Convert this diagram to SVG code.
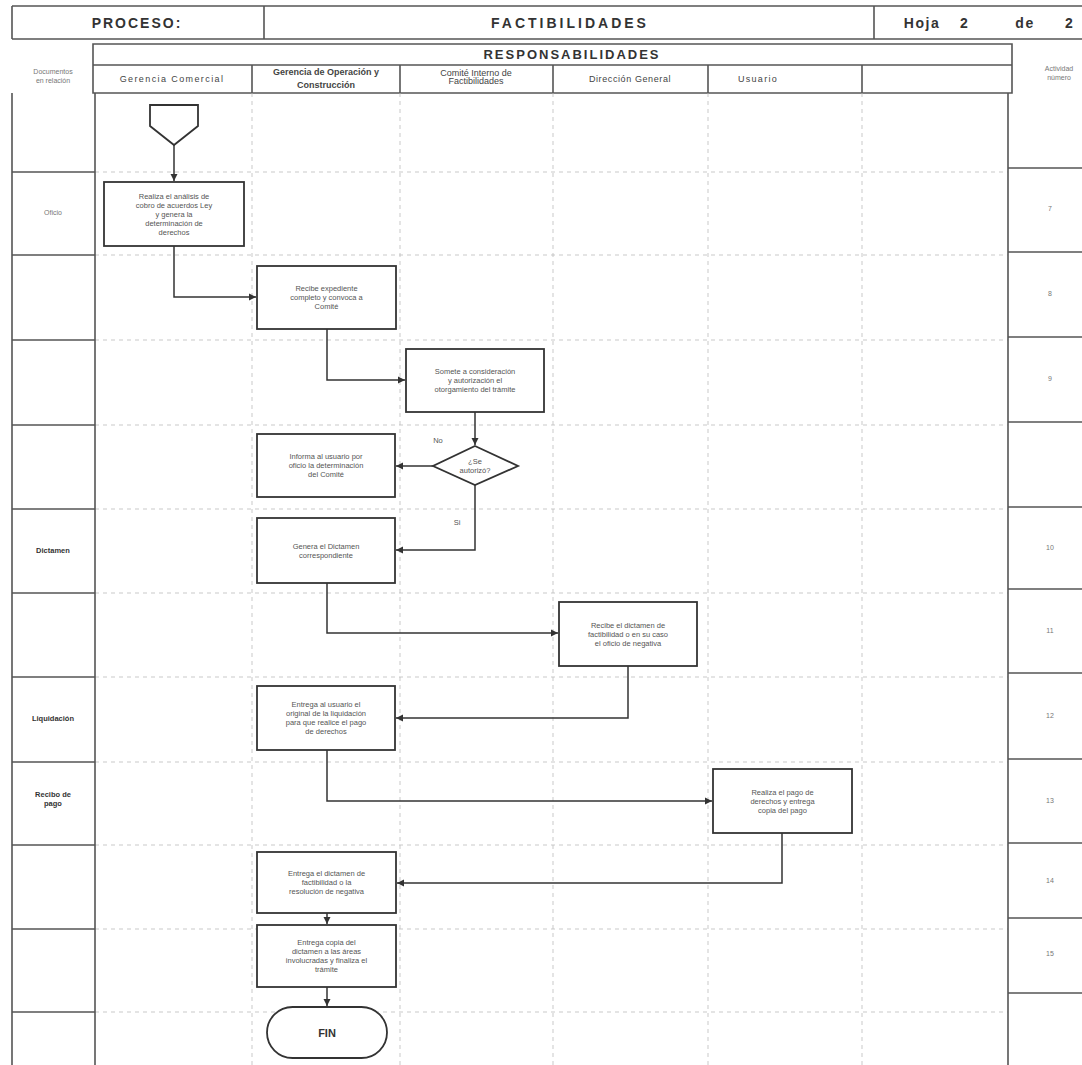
<svg xmlns="http://www.w3.org/2000/svg" width="1082" height="1065" viewBox="0 0 1082 1065">
<style>
  .frame{fill:none;stroke:#555;stroke-width:1.6}
  .solid{stroke:#555;stroke-width:1.6}
  .grid{stroke:#bbb;stroke-width:0.8;stroke-dasharray:4 4}
  .box{fill:#fff;stroke:#333;stroke-width:1.8}
  .conn{fill:none;stroke:#333;stroke-width:1.5}
  .t{font-family:"Liberation Sans",Arial,sans-serif;font-size:7.5px;fill:#555;text-anchor:middle}
  .doc{font-family:"Liberation Sans",Arial,sans-serif;font-size:7.5px;fill:#333;text-anchor:middle;font-weight:bold}
  .num{font-family:"Liberation Sans",Arial,sans-serif;font-size:7px;fill:#777;text-anchor:middle}
  .hd{font-family:"Liberation Sans",Arial,sans-serif;fill:#333;font-weight:bold;text-anchor:middle}
  .lane{font-family:"Liberation Sans",Arial,sans-serif;font-size:9px;fill:#444;text-anchor:middle}
</style>
<defs>
  <marker id="ah" markerWidth="8" markerHeight="8" refX="7" refY="4" orient="auto" markerUnits="userSpaceOnUse">
    <path d="M0,0.5 L7,4 L0,7.5 Z" fill="#333"/>
  </marker>
</defs>
<rect width="1082" height="1065" fill="#fff"/>

<!-- Title header -->
<g id="header">
  <path class="frame" d="M12,6 H1082 M12,39 H1082 M12,6 V39 M264,6 V39 M874,6 V39"/>
  <text class="hd" x="137" y="28" font-size="14" letter-spacing="2">PROCESO:</text>
  <text class="hd" x="570" y="28" font-size="14" letter-spacing="3">FACTIBILIDADES</text>
  <text class="hd" x="922" y="28" font-size="14" letter-spacing="1.5">Hoja</text>
  <text class="hd" x="964" y="28" font-size="14">2</text>
  <text class="hd" x="1025" y="28" font-size="14" letter-spacing="1.5">de</text>
  <text class="hd" x="1069" y="28" font-size="14">2</text>
</g>

<!-- Responsabilidades header -->
<g id="responsabilidades">
  <path class="frame" d="M93,44 H1012 V93 H93 Z"/>
  <path class="solid" d="M93,65 H1012" stroke-width="2.2"/>
  <text class="hd" x="572" y="59" font-size="13" letter-spacing="2">RESPONSABILIDADES</text>
  <path class="solid" d="M252,65 V93 M400,65 V93 M553,65 V93 M708,65 V93 M862,65 V93"/>
  <text class="lane" x="172" y="82" font-size="9.5" letter-spacing="1.4">Gerencia Comercial</text>
  <text class="lane" x="326" y="75" font-size="7.5" font-weight="bold" fill="#222">Gerencia de Operación y</text>
  <text class="lane" x="326" y="88" font-size="7.5" font-weight="bold" fill="#222">Construcción</text>
  <text class="lane" x="476" y="76" font-size="7.5">Comité Interno de</text>
  <text class="lane" x="476" y="84" font-size="7.5">Factibilidades</text>
  <text class="lane" x="630" y="82" letter-spacing="0.6">Dirección General</text>
  <text class="lane" x="758" y="82" letter-spacing="1.3">Usuario</text>
  <text class="num" x="53" y="74">Documentos</text>
  <text class="num" x="53" y="83">en relación</text>
  <text class="num" x="1059" y="71">Actividad</text>
  <text class="num" x="1059" y="80">número</text>
</g>

<!-- Grid -->
<g id="grid">
  <path class="grid" d="M252,93 V1065 M400,93 V1065 M553,93 V1065 M708,93 V1065 M862,93 V1065"/>
  <path class="grid" d="M95,172 H1008 M95,255 H1008 M95,340 H1008 M95,425 H1008 M95,509 H1008 M95,593 H1008 M95,677 H1008 M95,762 H1008 M95,845 H1008 M95,929 H1008 M95,1012 H1008"/>
  <path class="solid" d="M12,93 V1065 M95,93 V1065 M1008,93 V1065"/>
  <path class="solid" d="M12,172 H95 M12,255 H95 M12,340 H95 M12,425 H95 M12,509 H95 M12,593 H95 M12,677 H95 M12,762 H95 M12,845 H95 M12,929 H95 M12,1012 H95"/>
  <path class="solid" d="M1008,168 H1082 M1008,252 H1082 M1008,337 H1082 M1008,422 H1082 M1008,507 H1082 M1008,589 H1082 M1008,673 H1082 M1008,759 H1082 M1008,843 H1082 M1008,918 H1082 M1008,993 H1082"/>
  <text class="num" x="53" y="215" font-size="7.5">Oficio</text>
  <text class="doc" x="53" y="553">Dictamen</text>
  <text class="doc" x="53" y="721">Liquidación</text>
  <text class="doc" x="53" y="797">Recibo de</text>
  <text class="doc" x="53" y="806">pago</text>
  <text class="num" x="1050" y="211">7</text>
  <text class="num" x="1050" y="296">8</text>
  <text class="num" x="1050" y="381">9</text>
  <text class="num" x="1050" y="550">10</text>
  <text class="num" x="1050" y="633">11</text>
  <text class="num" x="1050" y="718">12</text>
  <text class="num" x="1050" y="803">13</text>
  <text class="num" x="1050" y="883">14</text>
  <text class="num" x="1050" y="956">15</text>
</g>

<!-- Connectors -->
<g id="connectors">
  <path class="conn" d="M174,145 V181" marker-end="url(#ah)"/>
  <path class="conn" d="M174,246 V297 H256" marker-end="url(#ah)"/>
  <path class="conn" d="M327,329 V380 H405" marker-end="url(#ah)"/>
  <path class="conn" d="M475,412 V445" marker-end="url(#ah)"/>
  <path class="conn" d="M433,466 H396" marker-end="url(#ah)"/>
  <path class="conn" d="M475,485 V550 H396" marker-end="url(#ah)"/>
  <path class="conn" d="M327,583 V633 H558" marker-end="url(#ah)"/>
  <path class="conn" d="M628,666 V718 H396" marker-end="url(#ah)"/>
  <path class="conn" d="M327,750 V801 H712" marker-end="url(#ah)"/>
  <path class="conn" d="M782,833 V883 H397" marker-end="url(#ah)"/>
  <path class="conn" d="M327,913 V924" marker-end="url(#ah)"/>
  <path class="conn" d="M327,987 V1006" marker-end="url(#ah)"/>
  <text class="t" x="438" y="443">No</text>
  <text class="t" x="457" y="525">Si</text>
</g>

<!-- Nodes -->
<g id="n0">
  <polygon class="box" points="150,105 198,105 198,126 174,145 150,126"/>
</g>
<g id="n1">
  <rect class="box" x="104" y="182" width="140" height="64"/>
  <text class="t" x="174" y="198.5">Realiza el análisis de</text>
  <text class="t" x="174" y="207.5">cobro de acuerdos Ley</text>
  <text class="t" x="174" y="216.5">y genera la</text>
  <text class="t" x="174" y="225.5">determinación de</text>
  <text class="t" x="174" y="234.5">derechos</text>
</g>
<g id="n2">
  <rect class="box" x="257" y="266" width="139" height="63"/>
  <text class="t" x="326.5" y="291">Recibe expediente</text>
  <text class="t" x="326.5" y="300">completo y convoca a</text>
  <text class="t" x="326.5" y="309">Comité</text>
</g>
<g id="n3">
  <rect class="box" x="406" y="349" width="138" height="63"/>
  <text class="t" x="475" y="374">Somete a consideración</text>
  <text class="t" x="475" y="383">y autorización el</text>
  <text class="t" x="475" y="392">otorgamiento del trámite</text>
</g>
<g id="n4">
  <polygon class="box" points="475,446 518,466 475,485 433,466"/>
  <text class="t" x="475" y="464">¿Se</text>
  <text class="t" x="475" y="473">autorizó?</text>
</g>
<g id="n5">
  <rect class="box" x="257" y="434" width="138" height="63"/>
  <text class="t" x="326" y="459">Informa al usuario por</text>
  <text class="t" x="326" y="468">oficio la determinación</text>
  <text class="t" x="326" y="477">del Comité</text>
</g>
<g id="n6">
  <rect class="box" x="257" y="518" width="138" height="65"/>
  <text class="t" x="326" y="548.5">Genera el Dictamen</text>
  <text class="t" x="326" y="557.5">correspondiente</text>
</g>
<g id="n7">
  <rect class="box" x="559" y="602" width="138" height="64"/>
  <text class="t" x="628" y="627.5">Recibe el dictamen de</text>
  <text class="t" x="628" y="636.5">factibilidad o en su caso</text>
  <text class="t" x="628" y="645.5">el oficio de negativa</text>
</g>
<g id="n8">
  <rect class="box" x="257" y="686" width="138" height="64"/>
  <text class="t" x="326" y="707">Entrega al usuario el</text>
  <text class="t" x="326" y="716">original de la liquidación</text>
  <text class="t" x="326" y="725">para que realice el pago</text>
  <text class="t" x="326" y="734">de derechos</text>
</g>
<g id="n9">
  <rect class="box" x="713" y="769" width="139" height="64"/>
  <text class="t" x="782.5" y="794.5">Realiza el pago de</text>
  <text class="t" x="782.5" y="803.5">derechos y entrega</text>
  <text class="t" x="782.5" y="812.5">copia del pago</text>
</g>
<g id="n10">
  <rect class="box" x="257" y="852" width="139" height="61"/>
  <text class="t" x="326.5" y="876">Entrega el dictamen de</text>
  <text class="t" x="326.5" y="885">factibilidad o la</text>
  <text class="t" x="326.5" y="894">resolución de negativa</text>
</g>
<g id="n11">
  <rect class="box" x="257" y="925" width="139" height="62"/>
  <text class="t" x="326.5" y="945">Entrega copia del</text>
  <text class="t" x="326.5" y="954">dictamen a las áreas</text>
  <text class="t" x="326.5" y="963">involucradas y finaliza el</text>
  <text class="t" x="326.5" y="972">trámite</text>
</g>
<g id="n12">
  <rect class="box" x="267" y="1007" width="120" height="51" rx="25.5" ry="25.5"/>
  <text class="hd" x="327" y="1037" font-size="11">FIN</text>
</g>
</svg>
